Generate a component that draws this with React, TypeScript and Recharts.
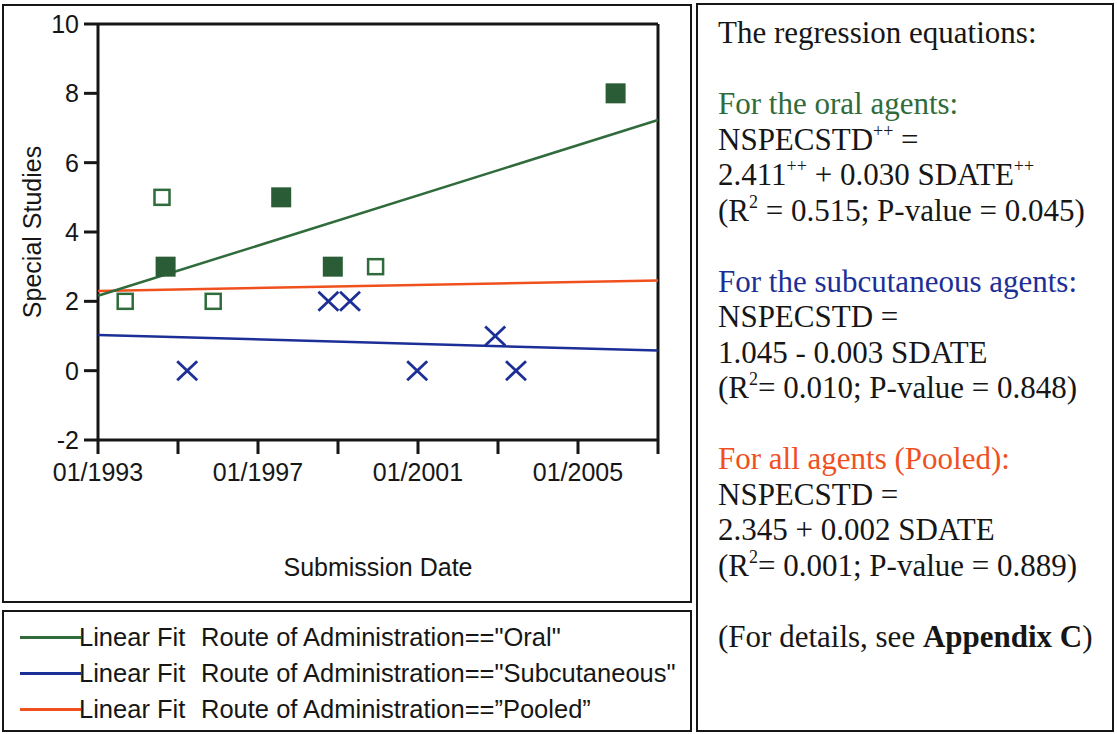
import { ScatterChart, Scatter, XAxis, YAxis, ReferenceLine } from 'recharts';

// x axis runs in years, ticks every two years, labels every four
const yearTicks = [1993, 1995, 1997, 1999, 2001, 2003, 2005, 2007];
const labelledYears = [1993, 1997, 2001, 2005];
const countTicks = [-2, 0, 2, 4, 6, 8, 10];

// oral agents (open and filled squares)
const openYears = [1993.68, 1994.6, 1995.88, 1999.94];
const openCounts = [2, 5, 2, 3];
const filledYears = [1994.69, 1997.58, 1998.87, 2005.94];
const filledCounts = [3, 5, 3, 8];

// subcutaneous agents (crosses)
const crossYears = [1995.23, 1998.76, 1999.3, 2000.98, 2002.93, 2003.45];
const crossCounts = [0, 2, 2, 0, 1, 0];

// linear fits, evaluated at both ends of the date range
const fitYears = [1993, 2007];
const oralFit = [2.16, 7.23];
const subcutFit = [1.03, 0.58];
const pooledFit = [2.3, 2.6];

const GREEN = '#2f6b3b';
const DARK_GREEN = '#2a5c36';
const BLUE = '#1c2f96';
const ORANGE = '#f0501e';
const INK = '#161616';

const zip = (xs: number[], ys: number[]) => xs.map((x, i) => ({ x, y: ys[i] }));

const OpenSquare = (p: any) => (
  <rect x={p.cx - 7.5} y={p.cy - 7.5} width={15} height={15} fill="none" stroke={GREEN} strokeWidth={2.5} />
);
const FilledSquare = (p: any) => (
  <rect x={p.cx - 10} y={p.cy - 10} width={20} height={20} fill={DARK_GREEN} />
);
const Cross = (p: any) => (
  <g stroke={BLUE} strokeWidth={2.8}>
    <line x1={p.cx - 10} y1={p.cy - 9.5} x2={p.cx + 10} y2={p.cy + 9.5} />
    <line x1={p.cx - 10} y1={p.cy + 9.5} x2={p.cx + 10} y2={p.cy - 9.5} />
  </g>
);
const NoDot = () => <g />;

const axisFont = { fill: INK, fontSize: 25, fontFamily: '"Liberation Sans", Arial, sans-serif' };
const axisStroke = { stroke: INK, strokeWidth: 3 };

const box = {
  position: 'absolute' as const,
  border: `2px solid ${INK}`,
  boxSizing: 'border-box' as const,
  background: '#fff',
};

const supStyle = {
  fontSize: 18,
  lineHeight: 0,
  verticalAlign: 'baseline',
  position: 'relative' as const,
  top: -13,
};

function FitLegendRow({ color, route, top }: { color: string; route: string; top: number }) {
  return (
    <div style={{ position: 'absolute', left: 0, top, width: '100%', height: 30, lineHeight: '30px' }}>
      <div style={{ position: 'absolute', left: 16, top: 14, width: 61, height: 3, background: color }} />
      <span style={{ position: 'absolute', left: 75 }}>Linear Fit</span>
      <span style={{ position: 'absolute', left: 197 }}>{route}</span>
    </div>
  );
}

function Equations() {
  const blank = <div style={{ height: 35.5 }} />;
  return (
    <div
      style={{
        ...box,
        left: 696,
        top: 3,
        width: 418,
        height: 729,
        paddingLeft: 20,
        paddingTop: 10,
        fontFamily: '"Liberation Serif", "Times New Roman", serif',
        fontSize: 31,
        lineHeight: '35.5px',
        color: INK,
        whiteSpace: 'nowrap',
      }}
    >
      <div>The regression equations:</div>
      {blank}
      <div style={{ color: GREEN }}>For the oral agents:</div>
      <div>
        NSPECSTD<sup style={supStyle}>++</sup> =
      </div>
      <div>
        2.411<sup style={supStyle}>++</sup> + 0.030 SDATE<sup style={supStyle}>++</sup>
      </div>
      <div>
        (R<sup style={supStyle}>2</sup> = 0.515; P-value = 0.045)
      </div>
      {blank}
      <div style={{ color: BLUE }}>For the subcutaneous agents:</div>
      <div>NSPECSTD =</div>
      <div>1.045 - 0.003 SDATE</div>
      <div>
        (R<sup style={supStyle}>2</sup>= 0.010; P-value = 0.848)
      </div>
      {blank}
      <div style={{ color: ORANGE }}>For all agents (Pooled):</div>
      <div>NSPECSTD =</div>
      <div>2.345 + 0.002 SDATE</div>
      <div>
        (R<sup style={supStyle}>2</sup>= 0.001; P-value = 0.889)
      </div>
      {blank}
      <div>
        (For details, see <b>Appendix C</b>)
      </div>
    </div>
  );
}

export default function App() {
  return (
    <div style={{ position: 'absolute', left: 0, top: 0, width: 1117, height: 734, background: '#fff' }}>
      <div style={{ ...box, left: 2, top: 4, width: 690, height: 599 }} />
      <div style={{ position: 'absolute', left: 0, top: 0 }}>
        <ScatterChart width={692} height={603} margin={{ top: 24, right: 34, bottom: 0, left: 0 }}>
          <XAxis
            type="number"
            dataKey="x"
            domain={[1993, 2007]}
            ticks={yearTicks}
            tickFormatter={(v: number) => (labelledYears.includes(v) ? `01/${v}` : '')}
            tick={axisFont}
            axisLine={axisStroke}
            tickLine={axisStroke}
            tickSize={14}
            tickMargin={9}
            height={163}
            label={{ value: 'Submission Date', position: 'insideBottom', offset: 27, style: axisFont }}
          />
          <YAxis
            type="number"
            dataKey="y"
            domain={[-2, 10]}
            ticks={countTicks}
            tick={axisFont}
            axisLine={axisStroke}
            tickLine={axisStroke}
            tickSize={14}
            tickMargin={5}
            width={98}
            label={{
              value: 'Special Studies',
              angle: -90,
              position: 'insideLeft',
              offset: 32,
              style: { ...axisFont, textAnchor: 'middle' },
            }}
          />
          <ReferenceLine y={10} stroke={INK} strokeWidth={3} />
          <ReferenceLine x={2007} stroke={INK} strokeWidth={3} />
          <Scatter data={zip(fitYears, pooledFit)} line={{ stroke: ORANGE, strokeWidth: 2.5 }} shape={NoDot} isAnimationActive={false} />
          <Scatter data={zip(fitYears, subcutFit)} line={{ stroke: BLUE, strokeWidth: 2.5 }} shape={NoDot} isAnimationActive={false} />
          <Scatter data={zip(fitYears, oralFit)} line={{ stroke: GREEN, strokeWidth: 2.5 }} shape={NoDot} isAnimationActive={false} />
          <Scatter data={zip(openYears, openCounts)} shape={OpenSquare} isAnimationActive={false} />
          <Scatter data={zip(filledYears, filledCounts)} shape={FilledSquare} isAnimationActive={false} />
          <Scatter data={zip(crossYears, crossCounts)} shape={Cross} isAnimationActive={false} />
        </ScatterChart>
      </div>
      <div
        style={{
          ...box,
          left: 2,
          top: 610,
          width: 690,
          height: 122,
          fontFamily: '"Liberation Sans", Arial, sans-serif',
          fontSize: 25.5,
          color: INK,
          whiteSpace: 'nowrap',
        }}
      >
        <FitLegendRow color={GREEN} route={'Route of Administration=="Oral"'} top={10} />
        <FitLegendRow color={BLUE} route={'Route of Administration=="Subcutaneous"'} top={46} />
        <FitLegendRow color={ORANGE} route={'Route of Administration==”Pooled”'} top={82} />
      </div>
      <Equations />
    </div>
  );
}
